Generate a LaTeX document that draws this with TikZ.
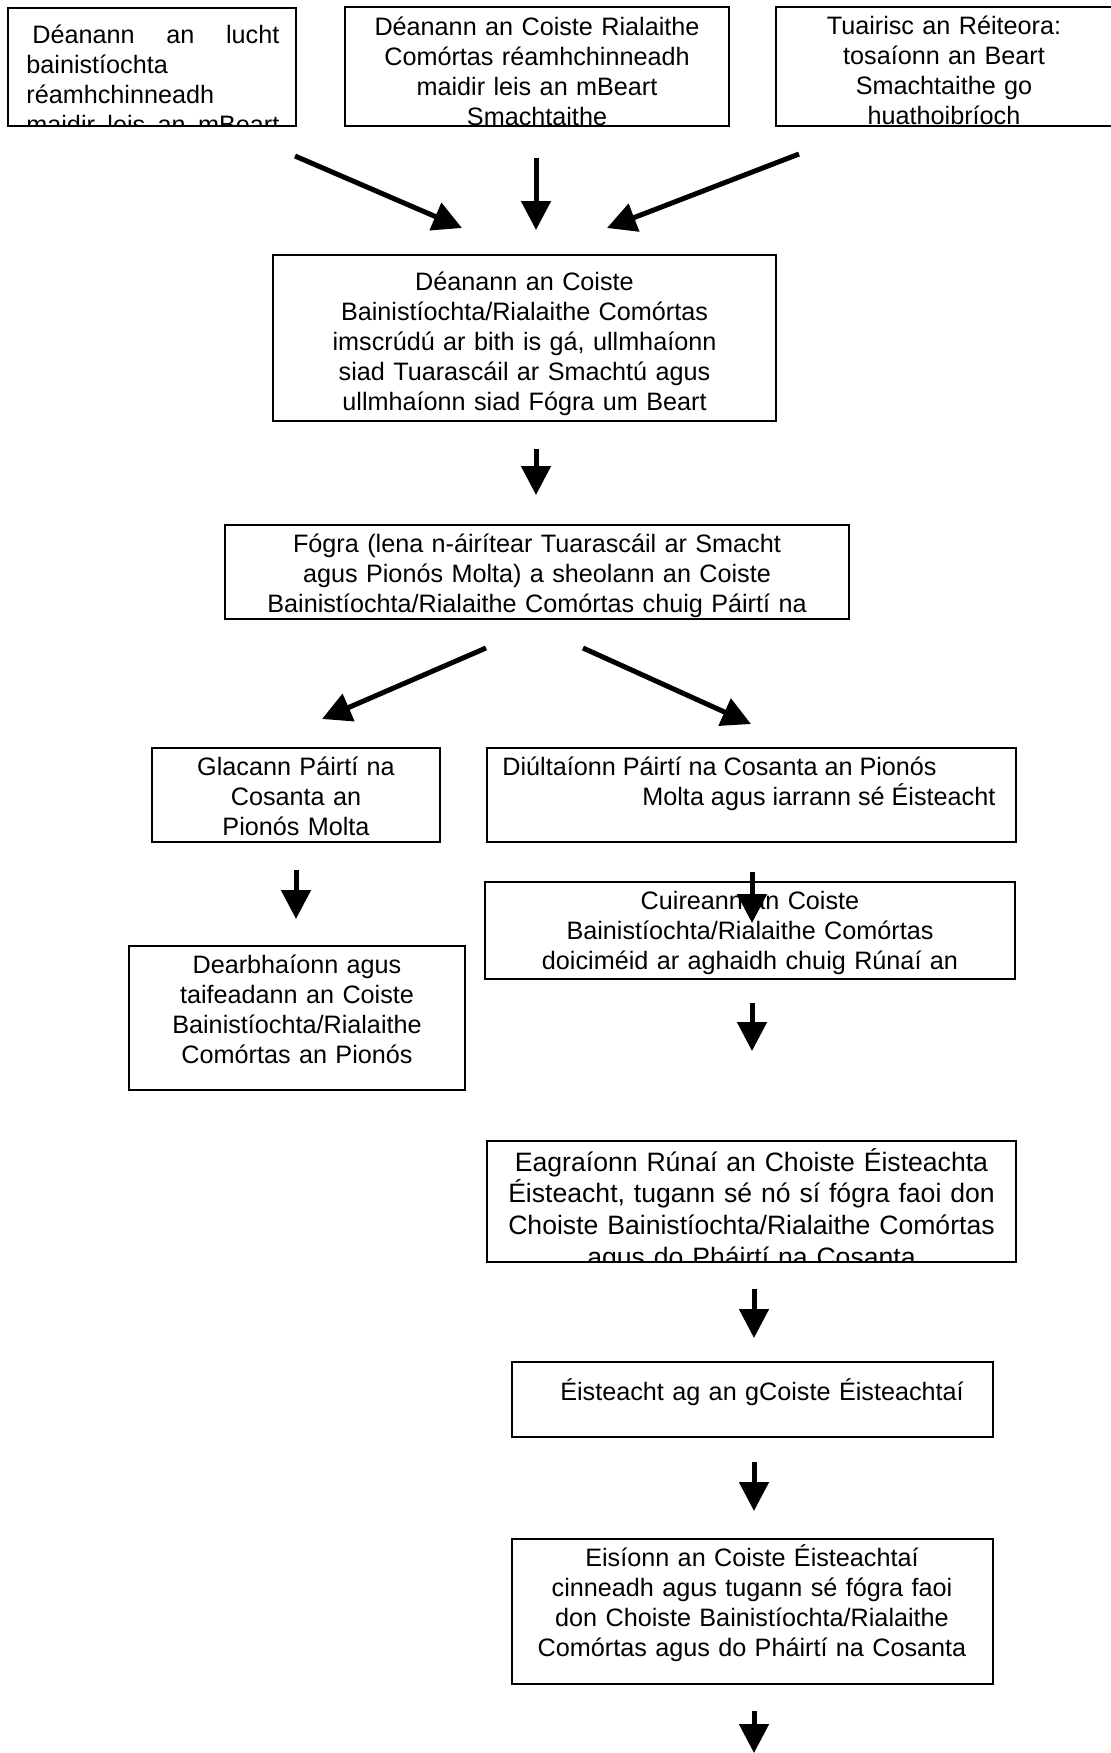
\documentclass[tikz,border=0pt]{standalone}
\usepackage{fontspec}
\setmainfont{Liberation Sans}
\usetikzlibrary{arrows.meta}

\tikzset{
    box/.style={draw, line width=1pt, inner sep=0pt, outer sep=0pt},
    txt/.style={font=\fontsize{12.6}{15}\selectfont, align=center, text width=330pt, inner sep=0pt, anchor=base},
    bigtxt/.style={txt, font=\fontsize{13.3}{15.85}\selectfont},
    arr/.style={line width=2.5pt, -{Triangle[length=14.5pt,width=14.5pt]}}
}

\begin{document}
\begin{tikzpicture}[x=0.5pt, y=-0.5pt]
    \useasboundingbox (0,0) rectangle (1111,1753);

    % Tri bhosca ar barr
    \node[box, minimum width=144pt, minimum height=59pt] (b1) at (152,67) {};
    \node[box, minimum width=192pt, minimum height=59.5pt] (b2) at (537,66.5) {};
    \node[box, minimum width=168.5pt, minimum height=59.5pt] (b3) at (944.5,66.5) {};
    \begin{scope}
        \clip (b1.south west) rectangle (b1.north east);
        \node[txt, anchor=base west, align=left, text width=126.5pt] (t1) at (26,43)
            {\spaceskip=0pt\relax
             \makebox[126.5pt][l]{\hspace{3pt}Déanann\hfill an\hfill lucht}\\ bainistíochta\\ réamhchinneadh\\
             \makebox[126.5pt][l]{maidir\hfill leis\hfill an\hfill mBeart}};
    \end{scope}
    \begin{scope}
        \clip (b2.south west) rectangle (b2.north east);
        \node[txt] (t2) at (537,35) {Déanann an Coiste Rialaithe\\ Comórtas réamhchinneadh\\ maidir leis an mBeart\\ Smachtaithe};
    \end{scope}
    \begin{scope}
        \clip (b3.south west) rectangle (b3.north east);
        \node[txt] (t3) at (944,34) {Tuairisc an Réiteora:\\ tosaíonn an Beart\\ Smachtaithe go\\ huathoibríoch};
    \end{scope}

    % Imscrudu an Choiste
    \node[box, minimum width=251.5pt, minimum height=83pt] (b4) at (524.5,338) {};
    \node[txt] (t4) at (524.5,290) {Déanann an Coiste\\ Bainistíochta/Rialaithe Comórtas\\ imscrúdú ar bith is gá, ullmhaíonn\\ siad Tuarascáil ar Smachtú agus\\ ullmhaíonn siad Fógra um Beart};

    % Fogra
    \node[box, minimum width=312pt, minimum height=47pt] (b5) at (537,572) {};
    \node[txt] (t5) at (537,552) {Fógra (lena n-áirítear Tuarascáil ar Smacht\\ agus Pionós Molta) a sheolann an Coiste\\ Bainistíochta/Rialaithe Comórtas chuig Páirtí na};

    % Glacann / Diultaionn
    \node[box, minimum width=144pt, minimum height=47pt] (b6) at (296,795) {};
    \node[txt] (t6) at (296,775) {Glacann Páirtí na\\ Cosanta an\\ Pionós Molta};
    \node[box, minimum width=264.5pt, minimum height=47pt] (b7) at (751.5,795) {};
    \node[txt, anchor=base west, align=left, text width=260pt] (t7) at (502,775)
        {\spaceskip=0pt\relax Diúltaíonn Páirtí na Cosanta an Pionós\\ \hspace*{70pt}Molta agus iarrann sé Éisteacht};

    % Dearbhaionn
    \node[box, minimum width=168pt, minimum height=72pt] (b8) at (297,1018) {};
    \node[txt] (t8) at (297,973) {Dearbhaíonn agus\\ taifeadann an Coiste\\ Bainistíochta/Rialaithe\\ Comórtas an Pionós};

    % Cuireann
    \node[box, minimum width=265pt, minimum height=48.5pt] (b9) at (750,930.5) {};
    \node[txt] (t9) at (750,909) {Cuireann an Coiste\\ Bainistíochta/Rialaithe Comórtas\\ doiciméid ar aghaidh chuig Rúnaí an};

    % Eagraionn
    \node[box, minimum width=264.5pt, minimum height=60.5pt] (b10) at (751.5,1201.5) {};
    \begin{scope}
        \clip (b10.south west) rectangle (b10.north east);
        \node[bigtxt] (t10) at (751.5,1171) {Eagraíonn Rúnaí an Choiste Éisteachta\\ Éisteacht, tugann sé nó sí fógra faoi don\\ Choiste Bainistíochta/Rialaithe Comórtas\\ agus do Pháirtí na Cosanta};
    \end{scope}

    % Eisteacht
    \node[box, minimum width=240.5pt, minimum height=37.5pt] (b11) at (752.5,1399.5) {};
    \node[txt] (t11) at (762,1400) {Éisteacht ag an gCoiste Éisteachtaí};

    % Eisionn
    \node[box, minimum width=240.5pt, minimum height=72.5pt] (b12) at (752.5,1611.5) {};
    \node[txt] (t12) at (752,1566) {Eisíonn an Coiste Éisteachtaí\\ cinneadh agus tugann sé fógra faoi\\ don Choiste Bainistíochta/Rialaithe\\ Comórtas agus do Pháirtí na Cosanta};

    % Saigheada
    \coordinate (s1) at (295,156);  \coordinate (e1) at (462,228);
    \coordinate (s2) at (536,158);  \coordinate (e2) at (536,230);
    \coordinate (s3) at (799,154);  \coordinate (e3) at (607,228);
    \coordinate (s4) at (536,449);  \coordinate (e4) at (536,495);
    \coordinate (s5) at (486,648);  \coordinate (e5) at (322,719);
    \coordinate (s6) at (583,648);  \coordinate (e6) at (751,724);
    \coordinate (s7) at (296,870);  \coordinate (e7) at (296,919);
    \coordinate (s8) at (752,872);  \coordinate (e8) at (752,923);
    \coordinate (s9) at (752,1003); \coordinate (e9) at (752,1051);
    \coordinate (s10) at (754,1289); \coordinate (e10) at (754,1338);
    \coordinate (s11) at (754,1462); \coordinate (e11) at (754,1511);
    \coordinate (s12) at (754,1711); \coordinate (e12) at (754,1753);
    \foreach \i in {1,...,12}
        \draw[arr] (s\i) -- (e\i);
\end{tikzpicture}
\end{document}
